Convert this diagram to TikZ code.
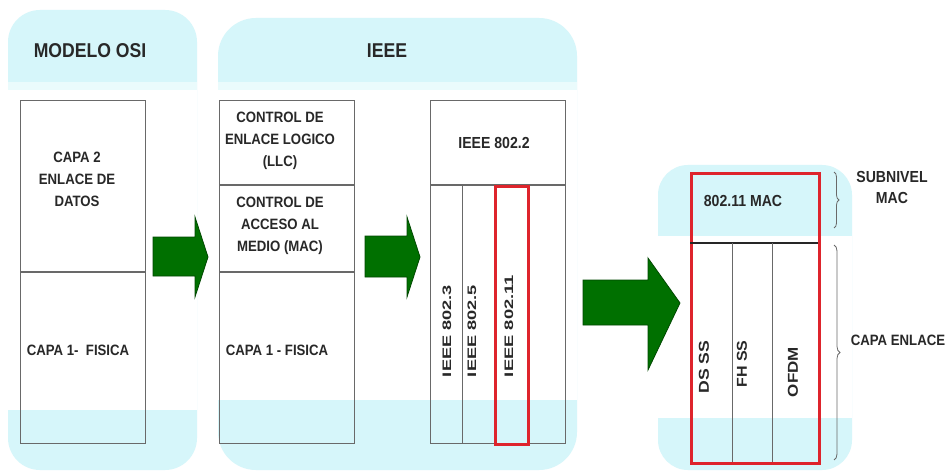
\documentclass[tikz,border=0pt]{standalone}
\usepackage{fontspec}
\setmainfont{Liberation Sans}[FakeStretch=0.88]
\usetikzlibrary{decorations.pathreplacing}
\definecolor{paneC}{RGB}{214,246,250}
\definecolor{paneL}{RGB}{234,251,252}
\definecolor{lineG}{RGB}{105,105,105}
\definecolor{redB}{RGB}{222,36,44}
\definecolor{arrG}{RGB}{0,112,0}
\definecolor{arrD}{RGB}{0,72,0}
\definecolor{txt}{RGB}{40,40,40}
\begin{document}
\begin{tikzpicture}[x=1pt,y=-1pt,
  lbl/.style={font=\bfseries\fontsize{15}{22}\selectfont, text=txt, align=center, inner sep=0pt},
  ttl/.style={font=\bfseries\fontsize{20}{24}\selectfont, text=txt, inner sep=0pt},
  vlbl/.style={font=\bfseries, text=txt, inner sep=0pt, rotate=90},
  layerbox/.style={draw=lineG, line width=1.4pt, inner sep=0pt, anchor=north west},
  sepline/.style={draw=lineG, line width=1.4pt},
  thinline/.style={draw=lineG, line width=1pt},
  redbox/.style={draw=redB, line width=2.6pt, inner sep=0pt, anchor=north west},
  bigarrow/.style={fill=arrG, draw=arrD, line width=0.8pt, line join=miter},
  brc/.style={draw=lineG, line width=0.8pt, decorate, decoration={brace, amplitude=5pt}}
]
\useasboundingbox (0,0) rectangle (950,473);
\fill[white] (0,0) rectangle (950,473);

% panel backgrounds
\fill[paneC, rounded corners=32pt] (8,10) rectangle (197,470);
\fill[paneL] (8,82) rectangle (197,90);
\fill[white] (8,90) rectangle (197,410);

\fill[paneC, rounded corners=38pt] (218,18) rectangle (577,470);
\fill[paneL] (218,82) rectangle (577,90);
\fill[white] (218,90) rectangle (577,400);

\fill[paneC, rounded corners=30pt] (658,165) rectangle (852,470);
\fill[white] (658,236) rectangle (852,418);

% titles
\node[ttl] (tosi) at (90,51) {MODELO OSI};
\node[ttl] (tieee) at (387,51) {IEEE};

% OSI box
\node[layerbox, minimum width=125pt, minimum height=343pt] (osi) at (20,100) {};
\coordinate (osiL) at (20,272);
\coordinate (osiR) at (145,272);
\draw[sepline] (osiL) -- (osiR);
\node[lbl] (capa2) at (77,179) {CAPA 2\\ENLACE DE\\DATOS};
\node[lbl] (capa1a) at (78,350) {CAPA 1- \ FISICA};

% LLC/MAC box
\node[layerbox, minimum width=135pt, minimum height=343pt] (llc) at (219,100) {};
\coordinate (llcL1) at (219,185);
\coordinate (llcR1) at (354,185);
\coordinate (llcL2) at (219,272);
\coordinate (llcR2) at (354,272);
\draw[sepline] (llcL1) -- (llcR1);
\draw[sepline] (llcL2) -- (llcR2);
\node[lbl] (tllc) at (280,141) {CONTROL DE\\ENLACE LOGICO\\(LLC)};
\node[lbl] (tmac) at (280,226) {CONTROL DE\\ACCESO AL\\MEDIO (MAC)};
\node[lbl] (capa1b) at (277,350) {CAPA 1 - FISICA};

% IEEE 802 box
\node[layerbox, minimum width=135pt, minimum height=343pt] (ieee) at (430,100) {};
\coordinate (ieL) at (430,185);
\coordinate (ieR) at (565,185);
\coordinate (ieV1) at (462,185);
\coordinate (ieV1b) at (462,443);
\draw[sepline] (ieL) -- (ieR);
\draw[thinline] (ieV1) -- (ieV1b);
\node[redbox, minimum width=33pt, minimum height=258pt] (r80211) at (494,185) {};
\node[lbl, font=\bfseries\fontsize{16}{20}\selectfont] (t8022) at (494,143) {IEEE 802.2};
\node[vlbl] (t8023) at (447,331) {\resizebox{92pt}{8.6pt}{IEEE 802.3}};
\node[vlbl] (t8025) at (472,331) {\resizebox{92pt}{8.6pt}{IEEE 802.5}};
\node[vlbl] (t80211) at (509,326) {\resizebox{102pt}{8.6pt}{IEEE 802.11}};

% right box
\node[redbox, minimum width=128pt, minimum height=290pt] (mac) at (690,172) {};
\coordinate (mL) at (690,243);
\coordinate (mR) at (818,243);
\coordinate (mV1) at (732,243);
\coordinate (mV1b) at (732,462);
\coordinate (mV2) at (772,243);
\coordinate (mV2b) at (772,462);
\draw[black!85, line width=2.6pt] (mL) -- (mR);
\draw[thinline, line width=0.8pt] (mV1) -- (mV1b);
\draw[thinline, line width=0.8pt] (mV2) -- (mV2b);
\node[lbl, font=\bfseries\fontsize{16}{20}\selectfont] (t80211mac) at (743,201) {802.11 MAC};
\node[vlbl] (tds) at (704,367) {\resizebox{53pt}{10pt}{DS SS}};
\node[vlbl] (tfh) at (742,364) {\resizebox{47pt}{10pt}{FH SS}};
\node[vlbl] (tofdm) at (793,372) {\resizebox{50pt}{10pt}{OFDM}};

% braces
\coordinate (b1a) at (834,172);
\coordinate (b1b) at (834,228);
\coordinate (b2a) at (834,245);
\coordinate (b2b) at (834,460);
\draw[brc] (b1a) -- (b1b);
\draw[brc, decoration={brace, amplitude=6pt}] (b2a) -- (b2b);
\node[lbl, font=\bfseries\fontsize{16}{21}\selectfont] (tsub) at (892,187) {SUBNIVEL\\MAC};
\node[lbl] (tcapae) at (898,340) {CAPA ENLACE};

% green arrows
\filldraw[bigarrow] (153,237) -- (195,237) -- (195,217) -- (208,257) -- (195,297) -- (195,276) -- (153,276) -- cycle;
\filldraw[bigarrow] (365,236) -- (407,236) -- (407,217) -- (420,257) -- (407,297) -- (407,277) -- (365,277) -- cycle;
\filldraw[bigarrow] (583,280) -- (648,280) -- (648,258) -- (680,303) -- (648,370) -- (648,325) -- (583,325) -- cycle;
\end{tikzpicture}
\end{document}
